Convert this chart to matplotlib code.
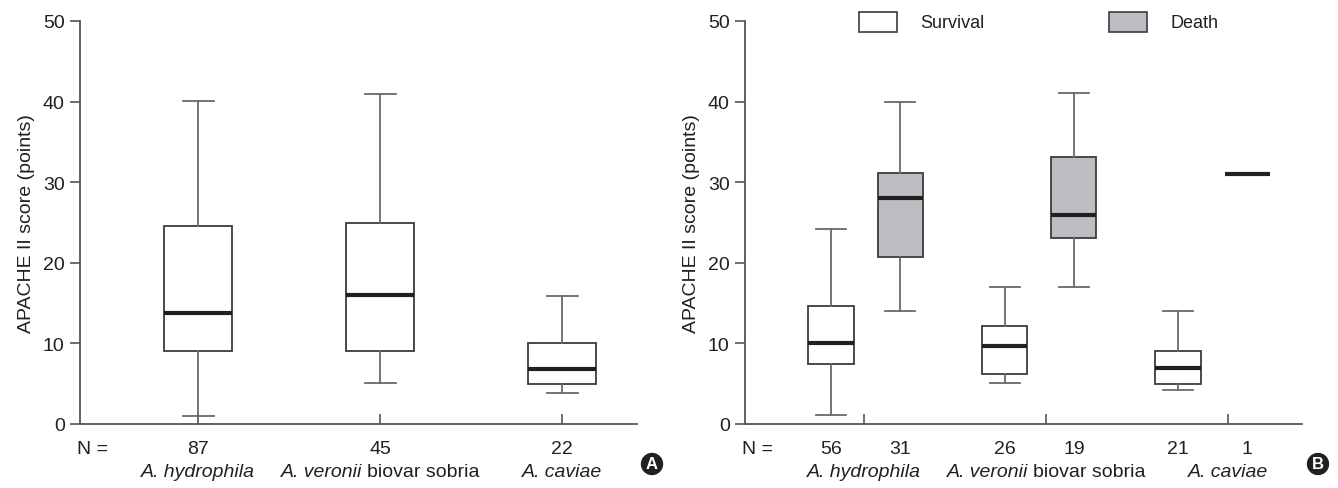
"""
APACHE II score by Aeromonas species: (A) all patients, (B) split by
survival / death.  Box plots drawn from summary stats read off the figure.
"""
import matplotlib
matplotlib.use("Agg")
import matplotlib.pyplot as plt
from matplotlib.offsetbox import TextArea, HPacker, AnnotationBbox
from matplotlib.patches import Rectangle

plt.rcParams["font.family"] = ["Liberation Sans Narrow", "Liberation Sans", "DejaVu Sans"]

# ---- data ----
SPECIES_ITALIC = ["A. hydrophila", "A. veronii", "A. caviae"]
SPECIES_PLAIN = ["", "biovar sobria", ""]
Y_LABEL = "APACHE II score (points)"
Y_TICKS = [0, 10, 20, 30, 40, 50]
GROUP_LABELS = ["Survival", "Death"]

# panel A: all patients
ALL_N = [87, 45, 22]
ALL_LOW = [1.0, 5.1, 3.8]
ALL_Q1 = [9.0, 9.0, 5.0]
ALL_MED = [13.8, 16.0, 6.8]
ALL_Q3 = [24.6, 25.0, 10.0]
ALL_HIGH = [40.1, 40.9, 15.9]

# panel B: survivors
SURV_N = [56, 26, 21]
SURV_LOW = [1.1, 5.1, 4.2]
SURV_Q1 = [7.5, 6.2, 5.0]
SURV_MED = [10.0, 9.7, 7.0]
SURV_Q3 = [14.6, 12.2, 9.0]
SURV_HIGH = [24.2, 17.0, 14.0]

# panel B: deaths
DEATH_N = [31, 19, 1]
DEATH_LOW = [14.0, 17.0, 31.0]
DEATH_Q1 = [20.7, 23.1, 31.0]
DEATH_MED = [28.0, 25.9, 31.0]
DEATH_Q3 = [31.1, 33.1, 31.0]
DEATH_HIGH = [40.0, 41.1, 31.0]

# ---- styling ----
TXT = "#231f20"
AXC = "#555555"
WHISK = "#6a6a6a"
EDGE = "#3c3c3c"
DEATH_FILL = "#bdbec2"
FS = 14
W, H = 1338, 489


def make_stats(lo, q1, med, q3, hi):
    return [dict(whislo=a, q1=b, med=c, q3=d, whishi=e)
            for a, b, c, d, e in zip(lo, q1, med, q3, hi)]


def draw_boxes(ax, st, pos, width, capw, face):
    ax.bxp(st, positions=pos, widths=width, capwidths=capw, showfliers=False,
           patch_artist=True, manage_ticks=False,
           boxprops=dict(facecolor=face, edgecolor=EDGE, linewidth=1.3),
           whiskerprops=dict(color=WHISK, linewidth=1.3),
           capprops=dict(color=WHISK, linewidth=1.3),
           medianprops=dict(color=TXT, linewidth=3.0, solid_capstyle="butt"))


def style(ax, xlim, ticks):
    ax.set_xlim(xlim)
    ax.set_ylim(0, 50)
    ax.spines[["top", "right"]].set_visible(False)
    for s in ("left", "bottom"):
        ax.spines[s].set_color(AXC)
        ax.spines[s].set_linewidth(1.3)
    ax.set_yticks(Y_TICKS)
    ax.tick_params(axis="y", direction="out", length=7, width=1.2, color=AXC,
                   labelsize=FS, labelcolor=TXT, pad=4)
    ax.set_xticks(ticks)
    ax.set_xticklabels([])
    ax.tick_params(axis="x", direction="in", length=7, width=1.2, color=AXC)
    ax.set_ylabel(Y_LABEL, fontsize=FS, color=TXT)
    ax.yaxis.set_label_coords(-0.081, 0.5)


def species_label(ax, x, italic, plain, y=-0.117):
    parts = [TextArea(italic, textprops=dict(fontsize=FS, fontstyle="italic", color=TXT))]
    if plain:
        parts.append(TextArea(plain, textprops=dict(fontsize=FS, color=TXT)))
    box = HPacker(children=parts, align="baseline", pad=0, sep=3.5)
    ab = AnnotationBbox(box, (x, y), xycoords=ax.get_xaxis_transform(), frameon=False,
                        box_alignment=(0.5, 0.5), pad=0, annotation_clip=False)
    ax.add_artist(ab)


def counts(ax, xs, ns, y=-0.060):
    ax.text(-0.005, y, "N =", transform=ax.transAxes, ha="left", va="center",
            fontsize=FS, color=TXT)
    for x, n in zip(xs, ns):
        ax.text(x, y, str(n), transform=ax.get_xaxis_transform(), ha="center",
                va="center", fontsize=FS, color=TXT)


def badge(fig, letter, x, y):
    fig.text(x / W, 1 - y / H, letter, ha="center", va="center", color="white",
             fontsize=12, fontweight="bold", family=["Liberation Sans", "DejaVu Sans"],
             bbox=dict(boxstyle="circle,pad=0.22", fc=TXT, ec="none"))


fig = plt.figure(figsize=(W / 100, H / 100), dpi=100)
axA = fig.add_axes([80 / W, 64 / H, 557 / W, 403 / H])
axB = fig.add_axes([745 / W, 64 / H, 557 / W, 403 / H])

# ---- panel A ----
pos_a = [1, 2, 3]
draw_boxes(axA, make_stats(ALL_LOW, ALL_Q1, ALL_MED, ALL_Q3, ALL_HIGH),
           pos_a, 0.374, 0.17, "white")
style(axA, (0.352, 3.41), pos_a)
counts(axA, pos_a, ALL_N)
for x, it, pl in zip(pos_a, SPECIES_ITALIC, SPECIES_PLAIN):
    species_label(axA, x, it, pl)
badge(fig, "A", 652, 465)

# ---- panel B ----
pos_s = [1.0, 2.0, 3.0]
pos_d = [1.40, 2.40, 3.40]
ticks_b = [1.19, 2.24, 3.29]
draw_boxes(axB, make_stats(SURV_LOW, SURV_Q1, SURV_MED, SURV_Q3, SURV_HIGH),
           pos_s, 0.26, 0.173, "white")
draw_boxes(axB, make_stats(DEATH_LOW, DEATH_Q1, DEATH_MED, DEATH_Q3, DEATH_HIGH),
           pos_d, 0.26, 0.173, DEATH_FILL)
style(axB, (0.504, 3.715), ticks_b)
counts(axB, pos_s + pos_d, SURV_N + DEATH_N)
for x, it, pl in zip(ticks_b, SPECIES_ITALIC, SPECIES_PLAIN):
    species_label(axB, x, it, pl)
badge(fig, "B", 1318, 465)

# legend, drawn by hand at the top of panel B
for (bx, tx), lab, face in zip([(859, 920), (1109, 1171)], GROUP_LABELS, ["white", DEATH_FILL]):
    fig.add_artist(Rectangle((bx / W, 1 - 33 / H), 38 / W, 20 / H, transform=fig.transFigure,
                             facecolor=face, edgecolor=EDGE, linewidth=1.2))
    fig.text(tx / W, 1 - 23 / H, lab, ha="left", va="center", fontsize=13, color=TXT)

fig.savefig("out.png", dpi=100)
